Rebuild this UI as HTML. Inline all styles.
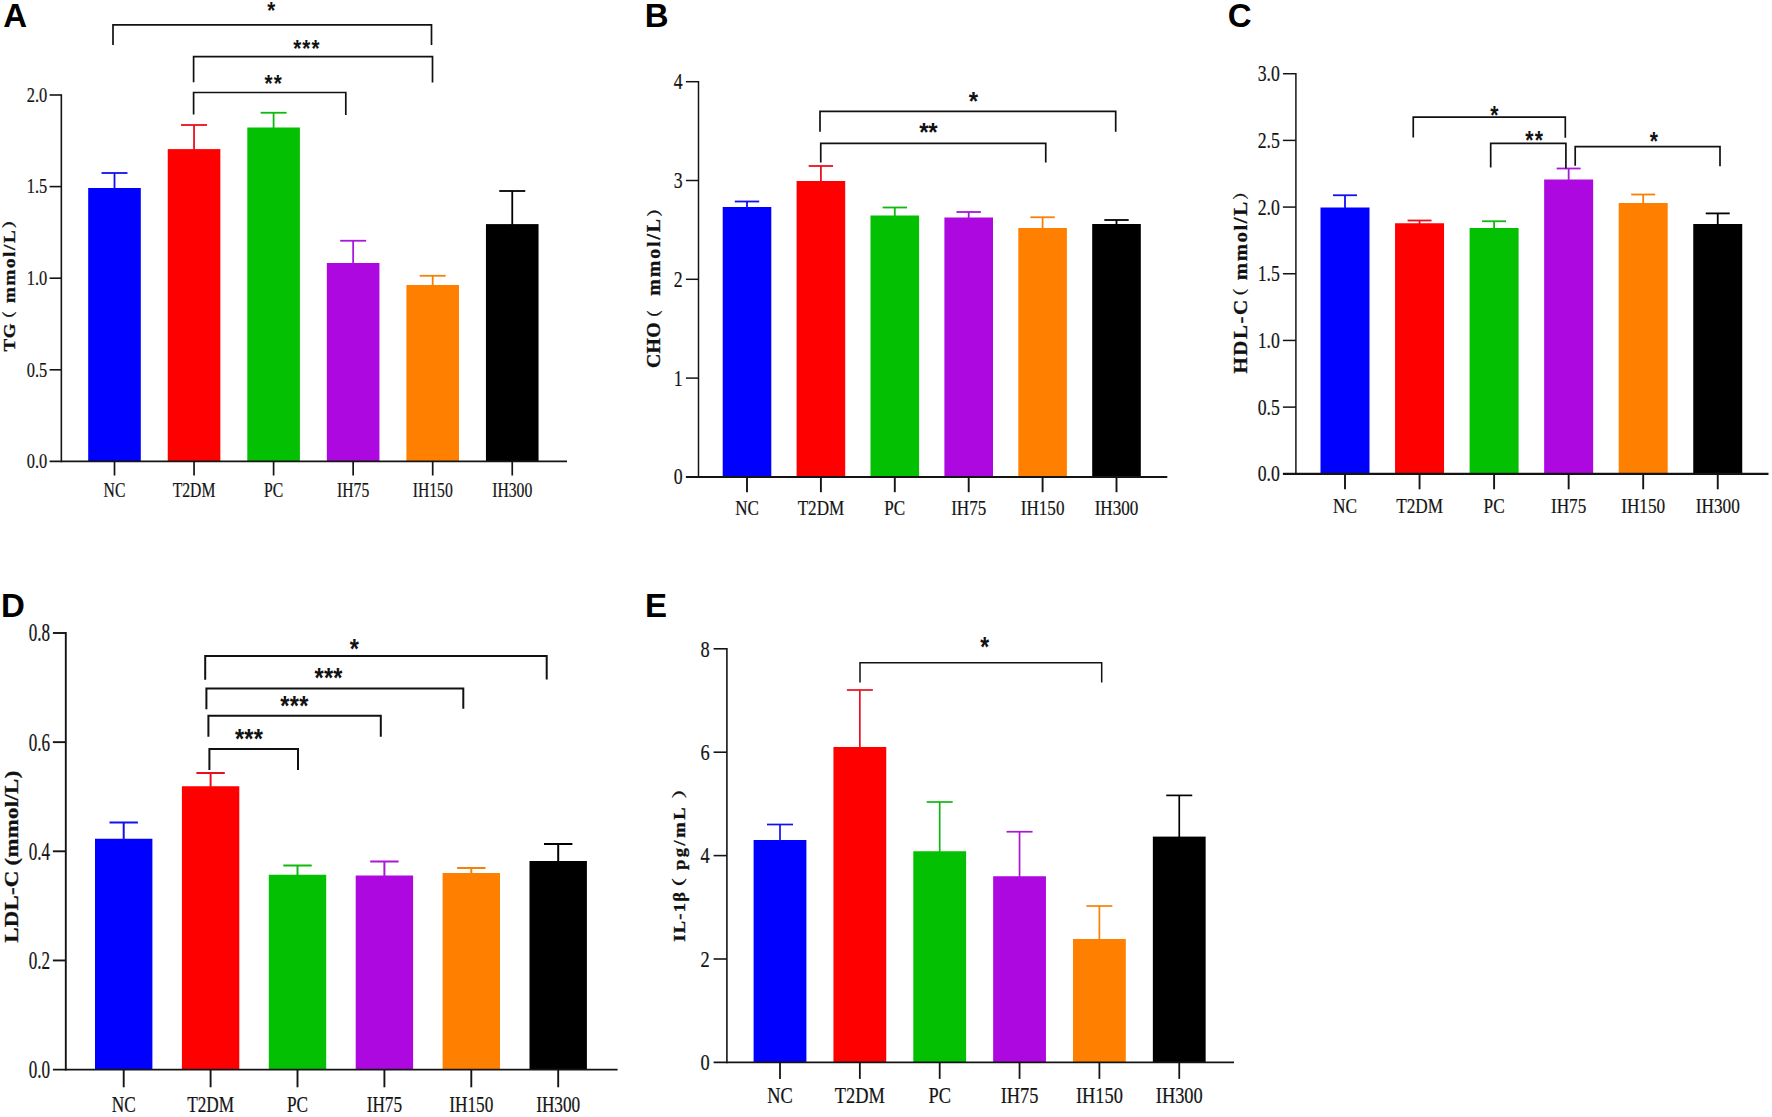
<!DOCTYPE html>
<html lang="en"><head><meta charset="utf-8"><title>Figure</title>
<style>html,body{margin:0;padding:0;background:#fff;}body{width:1772px;height:1117px;overflow:hidden;}svg{display:block;}</style>
</head><body>
<svg width="1772" height="1117" viewBox="0 0 1772 1117">
<rect width="1772" height="1117" fill="#ffffff"/>
<rect x="88.2" y="188" width="52.6" height="273.4" fill="#0000ff"/>
<line x1="114.5" y1="173" x2="114.5" y2="189" stroke="#1010f0" stroke-width="1.8"/>
<line x1="101.5" y1="173" x2="127.5" y2="173" stroke="#1010f0" stroke-width="1.8"/>
<rect x="167.75" y="149.1" width="52.6" height="312.3" fill="#ff0000"/>
<line x1="194.05" y1="125" x2="194.05" y2="150.1" stroke="#e81020" stroke-width="1.8"/>
<line x1="181.05" y1="125" x2="207.05" y2="125" stroke="#e81020" stroke-width="1.8"/>
<rect x="247.3" y="127.5" width="52.6" height="333.9" fill="#03c003"/>
<line x1="273.6" y1="112.75" x2="273.6" y2="128.5" stroke="#10b810" stroke-width="1.8"/>
<line x1="260.6" y1="112.75" x2="286.6" y2="112.75" stroke="#10b810" stroke-width="1.8"/>
<rect x="326.85" y="263" width="52.6" height="198.4" fill="#ae08e0"/>
<line x1="353.15" y1="240.75" x2="353.15" y2="264" stroke="#a818d8" stroke-width="1.8"/>
<line x1="340.15" y1="240.75" x2="366.15" y2="240.75" stroke="#a818d8" stroke-width="1.8"/>
<rect x="406.4" y="285" width="52.6" height="176.4" fill="#ff8000"/>
<line x1="432.7" y1="275.8" x2="432.7" y2="286" stroke="#f88008" stroke-width="1.8"/>
<line x1="419.7" y1="275.8" x2="445.7" y2="275.8" stroke="#f88008" stroke-width="1.8"/>
<rect x="485.95" y="224.1" width="52.6" height="237.3" fill="#000000"/>
<line x1="512.25" y1="191" x2="512.25" y2="225.1" stroke="#000000" stroke-width="1.8"/>
<line x1="499.25" y1="191" x2="525.25" y2="191" stroke="#000000" stroke-width="1.8"/>
<line x1="61.35" y1="94.2" x2="61.35" y2="462.25" stroke="#141414" stroke-width="1.6"/>
<line x1="49.6" y1="461.4" x2="567" y2="461.4" stroke="#141414" stroke-width="1.7"/>
<text transform="translate(47.2,468.1) scale(0.77,1)" text-anchor="end" font-family='"Liberation Serif","Noto Serif CJK SC",serif' font-size="21.3" fill="#141414" stroke="#141414" stroke-width="0.2" vector-effect="non-scaling-stroke">0.0</text>
<line x1="49.6" y1="369.8" x2="61.35" y2="369.8" stroke="#141414" stroke-width="1.6"/>
<text transform="translate(47.2,376.5) scale(0.77,1)" text-anchor="end" font-family='"Liberation Serif","Noto Serif CJK SC",serif' font-size="21.3" fill="#141414" stroke="#141414" stroke-width="0.2" vector-effect="non-scaling-stroke">0.5</text>
<line x1="49.6" y1="278.2" x2="61.35" y2="278.2" stroke="#141414" stroke-width="1.6"/>
<text transform="translate(47.2,284.9) scale(0.77,1)" text-anchor="end" font-family='"Liberation Serif","Noto Serif CJK SC",serif' font-size="21.3" fill="#141414" stroke="#141414" stroke-width="0.2" vector-effect="non-scaling-stroke">1.0</text>
<line x1="49.6" y1="186.6" x2="61.35" y2="186.6" stroke="#141414" stroke-width="1.6"/>
<text transform="translate(47.2,193.3) scale(0.77,1)" text-anchor="end" font-family='"Liberation Serif","Noto Serif CJK SC",serif' font-size="21.3" fill="#141414" stroke="#141414" stroke-width="0.2" vector-effect="non-scaling-stroke">1.5</text>
<line x1="49.6" y1="95" x2="61.35" y2="95" stroke="#141414" stroke-width="1.6"/>
<text transform="translate(47.2,101.7) scale(0.77,1)" text-anchor="end" font-family='"Liberation Serif","Noto Serif CJK SC",serif' font-size="21.3" fill="#141414" stroke="#141414" stroke-width="0.2" vector-effect="non-scaling-stroke">2.0</text>
<line x1="114.5" y1="461.4" x2="114.5" y2="475.5" stroke="#141414" stroke-width="1.7"/>
<text transform="translate(114.5,497.2) scale(0.765,1)" text-anchor="middle" font-family='"Liberation Serif","Noto Serif CJK SC",serif' font-size="20.5" fill="#141414" stroke="#141414" stroke-width="0.2" vector-effect="non-scaling-stroke">NC</text>
<line x1="194.05" y1="461.4" x2="194.05" y2="475.5" stroke="#141414" stroke-width="1.7"/>
<text transform="translate(194.05,497.2) scale(0.765,1)" text-anchor="middle" font-family='"Liberation Serif","Noto Serif CJK SC",serif' font-size="20.5" fill="#141414" stroke="#141414" stroke-width="0.2" vector-effect="non-scaling-stroke">T2DM</text>
<line x1="273.6" y1="461.4" x2="273.6" y2="475.5" stroke="#141414" stroke-width="1.7"/>
<text transform="translate(273.6,497.2) scale(0.765,1)" text-anchor="middle" font-family='"Liberation Serif","Noto Serif CJK SC",serif' font-size="20.5" fill="#141414" stroke="#141414" stroke-width="0.2" vector-effect="non-scaling-stroke">PC</text>
<line x1="353.15" y1="461.4" x2="353.15" y2="475.5" stroke="#141414" stroke-width="1.7"/>
<text transform="translate(353.15,497.2) scale(0.765,1)" text-anchor="middle" font-family='"Liberation Serif","Noto Serif CJK SC",serif' font-size="20.5" fill="#141414" stroke="#141414" stroke-width="0.2" vector-effect="non-scaling-stroke">IH75</text>
<line x1="432.7" y1="461.4" x2="432.7" y2="475.5" stroke="#141414" stroke-width="1.7"/>
<text transform="translate(432.7,497.2) scale(0.765,1)" text-anchor="middle" font-family='"Liberation Serif","Noto Serif CJK SC",serif' font-size="20.5" fill="#141414" stroke="#141414" stroke-width="0.2" vector-effect="non-scaling-stroke">IH150</text>
<line x1="512.25" y1="461.4" x2="512.25" y2="475.5" stroke="#141414" stroke-width="1.7"/>
<text transform="translate(512.25,497.2) scale(0.765,1)" text-anchor="middle" font-family='"Liberation Serif","Noto Serif CJK SC",serif' font-size="20.5" fill="#141414" stroke="#141414" stroke-width="0.2" vector-effect="non-scaling-stroke">IH300</text>
<path d="M113 45V24.9H431.5V45" fill="none" stroke="#111" stroke-width="1.7" stroke-linejoin="miter"/>
<text transform="translate(267.27,18.85) scale(0.86,1)" font-family='"Liberation Sans","Noto Sans CJK SC",sans-serif' font-weight="700" font-size="24" fill="#111">*</text>
<path d="M193.6 82.3V56.7H432.5V82.5" fill="none" stroke="#111" stroke-width="1.7" stroke-linejoin="miter"/>
<text transform="translate(293.17,57.45) scale(0.86,1)" font-family='"Liberation Sans","Noto Sans CJK SC",sans-serif' font-weight="700" font-size="24" letter-spacing="1.25" fill="#111">***</text>
<path d="M193.6 114.6V92.5H345.8V115" fill="none" stroke="#111" stroke-width="1.7" stroke-linejoin="miter"/>
<text transform="translate(264.57,91.9) scale(0.86,1)" font-family='"Liberation Sans","Noto Sans CJK SC",sans-serif' font-weight="700" font-size="24" letter-spacing="1.25" fill="#111">**</text>
<text x="3.2" y="27.3" font-family='"Liberation Sans","Noto Sans CJK SC",sans-serif' font-weight="700" font-size="33" fill="#000">A</text>
<text transform="translate(15.2,351.48) rotate(-90) scale(1.1,1)" font-family='"Liberation Serif","Noto Serif CJK SC",serif' font-weight="700" font-size="17.3" letter-spacing="0.6" fill="#111" stroke="#111" stroke-width="0.3">TG</text>
<text transform="translate(14.8,326.63) rotate(-90) scale(1.07,1)" font-family='"Liberation Serif","Noto Serif CJK SC",serif' font-weight="700" font-size="14.6" fill="#111" stroke="#111" stroke-width="0.3">（</text>
<text transform="translate(15.2,303.07) rotate(-90) scale(1.1,1)" font-family='"Liberation Serif","Noto Serif CJK SC",serif' font-weight="700" font-size="17.3" letter-spacing="1.49" fill="#111" stroke="#111" stroke-width="0.3">mmol/L</text>
<text transform="translate(14.8,228.54) rotate(-90) scale(1.19,1)" font-family='"Liberation Serif","Noto Serif CJK SC",serif' font-weight="700" font-size="14.6" fill="#111" stroke="#111" stroke-width="0.3">）</text>
<rect x="722.7" y="207" width="48.6" height="269.9" fill="#0000ff"/>
<line x1="747" y1="201.5" x2="747" y2="208" stroke="#1010f0" stroke-width="1.8"/>
<line x1="734.8" y1="201.5" x2="759.2" y2="201.5" stroke="#1010f0" stroke-width="1.8"/>
<rect x="796.6" y="181" width="48.6" height="295.9" fill="#ff0000"/>
<line x1="820.9" y1="166" x2="820.9" y2="182" stroke="#e81020" stroke-width="1.8"/>
<line x1="808.7" y1="166" x2="833.1" y2="166" stroke="#e81020" stroke-width="1.8"/>
<rect x="870.5" y="215.5" width="48.6" height="261.4" fill="#03c003"/>
<line x1="894.8" y1="207.5" x2="894.8" y2="216.5" stroke="#10b810" stroke-width="1.8"/>
<line x1="882.6" y1="207.5" x2="907" y2="207.5" stroke="#10b810" stroke-width="1.8"/>
<rect x="944.4" y="217.5" width="48.6" height="259.4" fill="#ae08e0"/>
<line x1="968.7" y1="212" x2="968.7" y2="218.5" stroke="#a818d8" stroke-width="1.8"/>
<line x1="956.5" y1="212" x2="980.9" y2="212" stroke="#a818d8" stroke-width="1.8"/>
<rect x="1018.3" y="228" width="48.6" height="248.9" fill="#ff8000"/>
<line x1="1042.6" y1="217.25" x2="1042.6" y2="229" stroke="#f88008" stroke-width="1.8"/>
<line x1="1030.4" y1="217.25" x2="1054.8" y2="217.25" stroke="#f88008" stroke-width="1.8"/>
<rect x="1092.2" y="224" width="48.6" height="252.9" fill="#000000"/>
<line x1="1116.5" y1="220" x2="1116.5" y2="225" stroke="#000000" stroke-width="1.8"/>
<line x1="1104.3" y1="220" x2="1128.7" y2="220" stroke="#000000" stroke-width="1.8"/>
<line x1="698.5" y1="80.95" x2="698.5" y2="477.9" stroke="#141414" stroke-width="1.5"/>
<line x1="685.9" y1="476.9" x2="1167.3" y2="476.9" stroke="#141414" stroke-width="2.0"/>
<text transform="translate(682.7,484.34) scale(0.765,1)" text-anchor="end" font-family='"Liberation Serif","Noto Serif CJK SC",serif' font-size="23.2" fill="#141414" stroke="#141414" stroke-width="0.2" vector-effect="non-scaling-stroke">0</text>
<line x1="685.9" y1="378.1" x2="698.5" y2="378.1" stroke="#141414" stroke-width="1.5"/>
<text transform="translate(682.7,385.54) scale(0.765,1)" text-anchor="end" font-family='"Liberation Serif","Noto Serif CJK SC",serif' font-size="23.2" fill="#141414" stroke="#141414" stroke-width="0.2" vector-effect="non-scaling-stroke">1</text>
<line x1="685.9" y1="279.3" x2="698.5" y2="279.3" stroke="#141414" stroke-width="1.5"/>
<text transform="translate(682.7,286.74) scale(0.765,1)" text-anchor="end" font-family='"Liberation Serif","Noto Serif CJK SC",serif' font-size="23.2" fill="#141414" stroke="#141414" stroke-width="0.2" vector-effect="non-scaling-stroke">2</text>
<line x1="685.9" y1="180.5" x2="698.5" y2="180.5" stroke="#141414" stroke-width="1.5"/>
<text transform="translate(682.7,187.94) scale(0.765,1)" text-anchor="end" font-family='"Liberation Serif","Noto Serif CJK SC",serif' font-size="23.2" fill="#141414" stroke="#141414" stroke-width="0.2" vector-effect="non-scaling-stroke">3</text>
<line x1="685.9" y1="81.7" x2="698.5" y2="81.7" stroke="#141414" stroke-width="1.5"/>
<text transform="translate(682.7,89.14) scale(0.765,1)" text-anchor="end" font-family='"Liberation Serif","Noto Serif CJK SC",serif' font-size="23.2" fill="#141414" stroke="#141414" stroke-width="0.2" vector-effect="non-scaling-stroke">4</text>
<line x1="747" y1="476.9" x2="747" y2="492.2" stroke="#141414" stroke-width="1.9"/>
<text transform="translate(747,515.2) scale(0.795,1)" text-anchor="middle" font-family='"Liberation Serif","Noto Serif CJK SC",serif' font-size="21.5" fill="#141414" stroke="#141414" stroke-width="0.2" vector-effect="non-scaling-stroke">NC</text>
<line x1="820.9" y1="476.9" x2="820.9" y2="492.2" stroke="#141414" stroke-width="1.9"/>
<text transform="translate(820.9,515.2) scale(0.795,1)" text-anchor="middle" font-family='"Liberation Serif","Noto Serif CJK SC",serif' font-size="21.5" fill="#141414" stroke="#141414" stroke-width="0.2" vector-effect="non-scaling-stroke">T2DM</text>
<line x1="894.8" y1="476.9" x2="894.8" y2="492.2" stroke="#141414" stroke-width="1.9"/>
<text transform="translate(894.8,515.2) scale(0.795,1)" text-anchor="middle" font-family='"Liberation Serif","Noto Serif CJK SC",serif' font-size="21.5" fill="#141414" stroke="#141414" stroke-width="0.2" vector-effect="non-scaling-stroke">PC</text>
<line x1="968.7" y1="476.9" x2="968.7" y2="492.2" stroke="#141414" stroke-width="1.9"/>
<text transform="translate(968.7,515.2) scale(0.795,1)" text-anchor="middle" font-family='"Liberation Serif","Noto Serif CJK SC",serif' font-size="21.5" fill="#141414" stroke="#141414" stroke-width="0.2" vector-effect="non-scaling-stroke">IH75</text>
<line x1="1042.6" y1="476.9" x2="1042.6" y2="492.2" stroke="#141414" stroke-width="1.9"/>
<text transform="translate(1042.6,515.2) scale(0.795,1)" text-anchor="middle" font-family='"Liberation Serif","Noto Serif CJK SC",serif' font-size="21.5" fill="#141414" stroke="#141414" stroke-width="0.2" vector-effect="non-scaling-stroke">IH150</text>
<line x1="1116.5" y1="476.9" x2="1116.5" y2="492.2" stroke="#141414" stroke-width="1.9"/>
<text transform="translate(1116.5,515.2) scale(0.795,1)" text-anchor="middle" font-family='"Liberation Serif","Noto Serif CJK SC",serif' font-size="21.5" fill="#141414" stroke="#141414" stroke-width="0.2" vector-effect="non-scaling-stroke">IH300</text>
<path d="M820 131.75V111.4H1115.7V131.75" fill="none" stroke="#111" stroke-width="1.7" stroke-linejoin="miter"/>
<text transform="translate(968.65,110.43) scale(1,1.04)" font-family='"Liberation Sans","Noto Sans CJK SC",sans-serif' font-weight="700" font-size="24" fill="#111">*</text>
<path d="M820.75 162.5V143.4H1045.75V162.5" fill="none" stroke="#111" stroke-width="1.7" stroke-linejoin="miter"/>
<text transform="translate(919.35,141.38) scale(1,1.04)" font-family='"Liberation Sans","Noto Sans CJK SC",sans-serif' font-weight="700" font-size="24" letter-spacing="-0.34" fill="#111">**</text>
<text x="644.8" y="27.3" font-family='"Liberation Sans","Noto Sans CJK SC",sans-serif' font-weight="700" font-size="33" fill="#000">B</text>
<text transform="translate(660,367.99) rotate(-90) scale(1.1,1)" font-family='"Liberation Serif","Noto Serif CJK SC",serif' font-weight="700" font-size="18" letter-spacing="0.29" fill="#111" stroke="#111" stroke-width="0.3">CHO</text>
<text transform="translate(659.6,325.73) rotate(-90) scale(1,1)" font-family='"Liberation Serif","Noto Serif CJK SC",serif' font-weight="700" font-size="15.6" fill="#111" stroke="#111" stroke-width="0.3">（</text>
<text transform="translate(660,295.69) rotate(-90) scale(1.1,1)" font-family='"Liberation Serif","Noto Serif CJK SC",serif' font-weight="700" font-size="18" letter-spacing="1.76" fill="#111" stroke="#111" stroke-width="0.3">mmol/L</text>
<text transform="translate(659.6,216.8) rotate(-90) scale(1.07,1)" font-family='"Liberation Serif","Noto Serif CJK SC",serif' font-weight="700" font-size="15.6" fill="#111" stroke="#111" stroke-width="0.3">）</text>
<rect x="1320.5" y="207.5" width="49" height="266.3" fill="#0000ff"/>
<line x1="1345" y1="195.25" x2="1345" y2="208.5" stroke="#1010f0" stroke-width="1.8"/>
<line x1="1333" y1="195.25" x2="1357" y2="195.25" stroke="#1010f0" stroke-width="1.8"/>
<rect x="1395.05" y="223.25" width="49" height="250.55" fill="#ff0000"/>
<line x1="1419.55" y1="220.5" x2="1419.55" y2="224.25" stroke="#e81020" stroke-width="1.8"/>
<line x1="1407.55" y1="220.5" x2="1431.55" y2="220.5" stroke="#e81020" stroke-width="1.8"/>
<rect x="1469.6" y="228" width="49" height="245.8" fill="#03c003"/>
<line x1="1494.1" y1="221.25" x2="1494.1" y2="229" stroke="#10b810" stroke-width="1.8"/>
<line x1="1482.1" y1="221.25" x2="1506.1" y2="221.25" stroke="#10b810" stroke-width="1.8"/>
<rect x="1544.15" y="179.5" width="49" height="294.3" fill="#ae08e0"/>
<line x1="1568.65" y1="168.5" x2="1568.65" y2="180.5" stroke="#a818d8" stroke-width="1.8"/>
<line x1="1556.65" y1="168.5" x2="1580.65" y2="168.5" stroke="#a818d8" stroke-width="1.8"/>
<rect x="1618.7" y="203" width="49" height="270.8" fill="#ff8000"/>
<line x1="1643.2" y1="194.5" x2="1643.2" y2="204" stroke="#f88008" stroke-width="1.8"/>
<line x1="1631.2" y1="194.5" x2="1655.2" y2="194.5" stroke="#f88008" stroke-width="1.8"/>
<rect x="1693.25" y="224" width="49" height="249.8" fill="#000000"/>
<line x1="1717.75" y1="213.4" x2="1717.75" y2="225" stroke="#000000" stroke-width="1.8"/>
<line x1="1705.75" y1="213.4" x2="1729.75" y2="213.4" stroke="#000000" stroke-width="1.8"/>
<line x1="1295.9" y1="72.97" x2="1295.9" y2="474.9" stroke="#141414" stroke-width="1.5"/>
<line x1="1282.9" y1="473.8" x2="1768.5" y2="473.8" stroke="#141414" stroke-width="2.2"/>
<text transform="translate(1279.9,481.34) scale(0.765,1)" text-anchor="end" font-family='"Liberation Serif","Noto Serif CJK SC",serif' font-size="23.2" fill="#141414" stroke="#141414" stroke-width="0.2" vector-effect="non-scaling-stroke">0.0</text>
<line x1="1282.9" y1="407.12" x2="1295.9" y2="407.12" stroke="#141414" stroke-width="1.5"/>
<text transform="translate(1279.9,414.66) scale(0.765,1)" text-anchor="end" font-family='"Liberation Serif","Noto Serif CJK SC",serif' font-size="23.2" fill="#141414" stroke="#141414" stroke-width="0.2" vector-effect="non-scaling-stroke">0.5</text>
<line x1="1282.9" y1="340.44" x2="1295.9" y2="340.44" stroke="#141414" stroke-width="1.5"/>
<text transform="translate(1279.9,347.98) scale(0.765,1)" text-anchor="end" font-family='"Liberation Serif","Noto Serif CJK SC",serif' font-size="23.2" fill="#141414" stroke="#141414" stroke-width="0.2" vector-effect="non-scaling-stroke">1.0</text>
<line x1="1282.9" y1="273.76" x2="1295.9" y2="273.76" stroke="#141414" stroke-width="1.5"/>
<text transform="translate(1279.9,281.3) scale(0.765,1)" text-anchor="end" font-family='"Liberation Serif","Noto Serif CJK SC",serif' font-size="23.2" fill="#141414" stroke="#141414" stroke-width="0.2" vector-effect="non-scaling-stroke">1.5</text>
<line x1="1282.9" y1="207.08" x2="1295.9" y2="207.08" stroke="#141414" stroke-width="1.5"/>
<text transform="translate(1279.9,214.62) scale(0.765,1)" text-anchor="end" font-family='"Liberation Serif","Noto Serif CJK SC",serif' font-size="23.2" fill="#141414" stroke="#141414" stroke-width="0.2" vector-effect="non-scaling-stroke">2.0</text>
<line x1="1282.9" y1="140.4" x2="1295.9" y2="140.4" stroke="#141414" stroke-width="1.5"/>
<text transform="translate(1279.9,147.94) scale(0.765,1)" text-anchor="end" font-family='"Liberation Serif","Noto Serif CJK SC",serif' font-size="23.2" fill="#141414" stroke="#141414" stroke-width="0.2" vector-effect="non-scaling-stroke">2.5</text>
<line x1="1282.9" y1="73.72" x2="1295.9" y2="73.72" stroke="#141414" stroke-width="1.5"/>
<text transform="translate(1279.9,81.26) scale(0.765,1)" text-anchor="end" font-family='"Liberation Serif","Noto Serif CJK SC",serif' font-size="23.2" fill="#141414" stroke="#141414" stroke-width="0.2" vector-effect="non-scaling-stroke">3.0</text>
<line x1="1345" y1="473.8" x2="1345" y2="489.3" stroke="#141414" stroke-width="1.9"/>
<text transform="translate(1345,512.5) scale(0.82,1)" text-anchor="middle" font-family='"Liberation Serif","Noto Serif CJK SC",serif' font-size="21" fill="#141414" stroke="#141414" stroke-width="0.2" vector-effect="non-scaling-stroke">NC</text>
<line x1="1419.55" y1="473.8" x2="1419.55" y2="489.3" stroke="#141414" stroke-width="1.9"/>
<text transform="translate(1419.55,512.5) scale(0.82,1)" text-anchor="middle" font-family='"Liberation Serif","Noto Serif CJK SC",serif' font-size="21" fill="#141414" stroke="#141414" stroke-width="0.2" vector-effect="non-scaling-stroke">T2DM</text>
<line x1="1494.1" y1="473.8" x2="1494.1" y2="489.3" stroke="#141414" stroke-width="1.9"/>
<text transform="translate(1494.1,512.5) scale(0.82,1)" text-anchor="middle" font-family='"Liberation Serif","Noto Serif CJK SC",serif' font-size="21" fill="#141414" stroke="#141414" stroke-width="0.2" vector-effect="non-scaling-stroke">PC</text>
<line x1="1568.65" y1="473.8" x2="1568.65" y2="489.3" stroke="#141414" stroke-width="1.9"/>
<text transform="translate(1568.65,512.5) scale(0.82,1)" text-anchor="middle" font-family='"Liberation Serif","Noto Serif CJK SC",serif' font-size="21" fill="#141414" stroke="#141414" stroke-width="0.2" vector-effect="non-scaling-stroke">IH75</text>
<line x1="1643.2" y1="473.8" x2="1643.2" y2="489.3" stroke="#141414" stroke-width="1.9"/>
<text transform="translate(1643.2,512.5) scale(0.82,1)" text-anchor="middle" font-family='"Liberation Serif","Noto Serif CJK SC",serif' font-size="21" fill="#141414" stroke="#141414" stroke-width="0.2" vector-effect="non-scaling-stroke">IH150</text>
<line x1="1717.75" y1="473.8" x2="1717.75" y2="489.3" stroke="#141414" stroke-width="1.9"/>
<text transform="translate(1717.75,512.5) scale(0.82,1)" text-anchor="middle" font-family='"Liberation Serif","Noto Serif CJK SC",serif' font-size="21" fill="#141414" stroke="#141414" stroke-width="0.2" vector-effect="non-scaling-stroke">IH300</text>
<path d="M1413.25 137.5V117.1H1565.3V137.8" fill="none" stroke="#111" stroke-width="1.7" stroke-linejoin="miter"/>
<text transform="translate(1490.22,123.72) scale(0.88,1.06)" font-family='"Liberation Sans","Noto Sans CJK SC",sans-serif' font-weight="700" font-size="24" fill="#111">*</text>
<path d="M1490.7 167.6V143.4H1565.9V168.5" fill="none" stroke="#111" stroke-width="1.7" stroke-linejoin="miter"/>
<text transform="translate(1525.22,148.72) scale(0.88,1.06)" font-family='"Liberation Sans","Noto Sans CJK SC",sans-serif' font-weight="700" font-size="24" letter-spacing="1.57" fill="#111">**</text>
<path d="M1575.2 165.8V146.6H1720V166.2" fill="none" stroke="#111" stroke-width="1.7" stroke-linejoin="miter"/>
<text transform="translate(1649.82,150.12) scale(0.88,1.06)" font-family='"Liberation Sans","Noto Sans CJK SC",sans-serif' font-weight="700" font-size="24" fill="#111">*</text>
<text x="1227.8" y="27.3" font-family='"Liberation Sans","Noto Sans CJK SC",sans-serif' font-weight="700" font-size="33" fill="#000">C</text>
<text transform="translate(1246.5,373.52) rotate(-90) scale(1.1,1)" font-family='"Liberation Serif","Noto Serif CJK SC",serif' font-weight="700" font-size="19" letter-spacing="1.41" fill="#111" stroke="#111" stroke-width="0.3">HDL-C</text>
<text transform="translate(1246.1,304.75) rotate(-90) scale(1.04,1)" font-family='"Liberation Serif","Noto Serif CJK SC",serif' font-weight="700" font-size="15.7" fill="#111" stroke="#111" stroke-width="0.3">（</text>
<text transform="translate(1246.5,280.23) rotate(-90) scale(1.1,1)" font-family='"Liberation Serif","Noto Serif CJK SC",serif' font-weight="700" font-size="19" letter-spacing="1.37" fill="#111" stroke="#111" stroke-width="0.3">mmol/L</text>
<text transform="translate(1246.1,199.78) rotate(-90) scale(1.04,1)" font-family='"Liberation Serif","Noto Serif CJK SC",serif' font-weight="700" font-size="15.7" fill="#111" stroke="#111" stroke-width="0.3">）</text>
<rect x="95" y="838.75" width="57.4" height="230.85" fill="#0000ff"/>
<line x1="123.7" y1="822.5" x2="123.7" y2="839.75" stroke="#1010f0" stroke-width="2.0"/>
<line x1="109.5" y1="822.5" x2="137.9" y2="822.5" stroke="#1010f0" stroke-width="2.0"/>
<rect x="181.9" y="786.25" width="57.4" height="283.35" fill="#ff0000"/>
<line x1="210.6" y1="773" x2="210.6" y2="787.25" stroke="#e81020" stroke-width="2.0"/>
<line x1="196.4" y1="773" x2="224.8" y2="773" stroke="#e81020" stroke-width="2.0"/>
<rect x="268.8" y="874.75" width="57.4" height="194.85" fill="#03c003"/>
<line x1="297.5" y1="865.5" x2="297.5" y2="875.75" stroke="#10b810" stroke-width="2.0"/>
<line x1="283.3" y1="865.5" x2="311.7" y2="865.5" stroke="#10b810" stroke-width="2.0"/>
<rect x="355.7" y="875.5" width="57.4" height="194.1" fill="#ae08e0"/>
<line x1="384.4" y1="861.5" x2="384.4" y2="876.5" stroke="#a818d8" stroke-width="2.0"/>
<line x1="370.2" y1="861.5" x2="398.6" y2="861.5" stroke="#a818d8" stroke-width="2.0"/>
<rect x="442.6" y="873" width="57.4" height="196.6" fill="#ff8000"/>
<line x1="471.3" y1="868" x2="471.3" y2="874" stroke="#f88008" stroke-width="2.0"/>
<line x1="457.1" y1="868" x2="485.5" y2="868" stroke="#f88008" stroke-width="2.0"/>
<rect x="529.5" y="861" width="57.4" height="208.6" fill="#000000"/>
<line x1="558.2" y1="844" x2="558.2" y2="862" stroke="#000000" stroke-width="2.0"/>
<line x1="544" y1="844" x2="572.4" y2="844" stroke="#000000" stroke-width="2.0"/>
<line x1="65.8" y1="632.05" x2="65.8" y2="1070.55" stroke="#141414" stroke-width="1.9"/>
<line x1="52.9" y1="1069.6" x2="617.6" y2="1069.6" stroke="#141414" stroke-width="1.9"/>
<text transform="translate(50.1,1077.98) scale(0.69,1)" text-anchor="end" font-family='"Liberation Serif","Noto Serif CJK SC",serif' font-size="24.8" fill="#141414" stroke="#141414" stroke-width="0.2" vector-effect="non-scaling-stroke">0.0</text>
<line x1="52.9" y1="960.45" x2="65.8" y2="960.45" stroke="#141414" stroke-width="1.9"/>
<text transform="translate(50.1,968.83) scale(0.69,1)" text-anchor="end" font-family='"Liberation Serif","Noto Serif CJK SC",serif' font-size="24.8" fill="#141414" stroke="#141414" stroke-width="0.2" vector-effect="non-scaling-stroke">0.2</text>
<line x1="52.9" y1="851.3" x2="65.8" y2="851.3" stroke="#141414" stroke-width="1.9"/>
<text transform="translate(50.1,859.68) scale(0.69,1)" text-anchor="end" font-family='"Liberation Serif","Noto Serif CJK SC",serif' font-size="24.8" fill="#141414" stroke="#141414" stroke-width="0.2" vector-effect="non-scaling-stroke">0.4</text>
<line x1="52.9" y1="742.15" x2="65.8" y2="742.15" stroke="#141414" stroke-width="1.9"/>
<text transform="translate(50.1,750.53) scale(0.69,1)" text-anchor="end" font-family='"Liberation Serif","Noto Serif CJK SC",serif' font-size="24.8" fill="#141414" stroke="#141414" stroke-width="0.2" vector-effect="non-scaling-stroke">0.6</text>
<line x1="52.9" y1="633" x2="65.8" y2="633" stroke="#141414" stroke-width="1.9"/>
<text transform="translate(50.1,641.38) scale(0.69,1)" text-anchor="end" font-family='"Liberation Serif","Noto Serif CJK SC",serif' font-size="24.8" fill="#141414" stroke="#141414" stroke-width="0.2" vector-effect="non-scaling-stroke">0.8</text>
<line x1="123.7" y1="1069.6" x2="123.7" y2="1087.3" stroke="#141414" stroke-width="1.9"/>
<text transform="translate(123.7,1111.5) scale(0.75,1)" text-anchor="middle" font-family='"Liberation Serif","Noto Serif CJK SC",serif' font-size="23" fill="#141414" stroke="#141414" stroke-width="0.2" vector-effect="non-scaling-stroke">NC</text>
<line x1="210.6" y1="1069.6" x2="210.6" y2="1087.3" stroke="#141414" stroke-width="1.9"/>
<text transform="translate(210.6,1111.5) scale(0.75,1)" text-anchor="middle" font-family='"Liberation Serif","Noto Serif CJK SC",serif' font-size="23" fill="#141414" stroke="#141414" stroke-width="0.2" vector-effect="non-scaling-stroke">T2DM</text>
<line x1="297.5" y1="1069.6" x2="297.5" y2="1087.3" stroke="#141414" stroke-width="1.9"/>
<text transform="translate(297.5,1111.5) scale(0.75,1)" text-anchor="middle" font-family='"Liberation Serif","Noto Serif CJK SC",serif' font-size="23" fill="#141414" stroke="#141414" stroke-width="0.2" vector-effect="non-scaling-stroke">PC</text>
<line x1="384.4" y1="1069.6" x2="384.4" y2="1087.3" stroke="#141414" stroke-width="1.9"/>
<text transform="translate(384.4,1111.5) scale(0.75,1)" text-anchor="middle" font-family='"Liberation Serif","Noto Serif CJK SC",serif' font-size="23" fill="#141414" stroke="#141414" stroke-width="0.2" vector-effect="non-scaling-stroke">IH75</text>
<line x1="471.3" y1="1069.6" x2="471.3" y2="1087.3" stroke="#141414" stroke-width="1.9"/>
<text transform="translate(471.3,1111.5) scale(0.75,1)" text-anchor="middle" font-family='"Liberation Serif","Noto Serif CJK SC",serif' font-size="23" fill="#141414" stroke="#141414" stroke-width="0.2" vector-effect="non-scaling-stroke">IH150</text>
<line x1="558.2" y1="1069.6" x2="558.2" y2="1087.3" stroke="#141414" stroke-width="1.9"/>
<text transform="translate(558.2,1111.5) scale(0.75,1)" text-anchor="middle" font-family='"Liberation Serif","Noto Serif CJK SC",serif' font-size="23" fill="#141414" stroke="#141414" stroke-width="0.2" vector-effect="non-scaling-stroke">IH300</text>
<path d="M205.2 679.7V656.1H546.7V679.6" fill="none" stroke="#111" stroke-width="2.0" stroke-linejoin="miter"/>
<text transform="translate(349.75,658.34) scale(0.98,1.17)" font-family='"Liberation Sans","Noto Sans CJK SC",sans-serif' font-weight="700" font-size="24" fill="#111">*</text>
<path d="M206.4 709.3V688.5H463.3V708.8" fill="none" stroke="#111" stroke-width="2.0" stroke-linejoin="miter"/>
<text transform="translate(314.55,687.04) scale(0.98,1.17)" font-family='"Liberation Sans","Noto Sans CJK SC",sans-serif' font-weight="700" font-size="24" letter-spacing="0.26" fill="#111">***</text>
<path d="M208.4 736.8V715.7H380.8V736.8" fill="none" stroke="#111" stroke-width="2.0" stroke-linejoin="miter"/>
<text transform="translate(280.35,715.24) scale(0.98,1.17)" font-family='"Liberation Sans","Noto Sans CJK SC",sans-serif' font-weight="700" font-size="24" letter-spacing="0.26" fill="#111">***</text>
<path d="M209.4 770V749H298V770" fill="none" stroke="#111" stroke-width="2.0" stroke-linejoin="miter"/>
<text transform="translate(234.95,747.94) scale(0.98,1.17)" font-family='"Liberation Sans","Noto Sans CJK SC",sans-serif' font-weight="700" font-size="24" letter-spacing="0.26" fill="#111">***</text>
<text x="0.9" y="616.5" font-family='"Liberation Sans","Noto Sans CJK SC",sans-serif' font-weight="700" font-size="33" fill="#000">D</text>
<text transform="translate(18.35,942.66) rotate(-90) scale(1.2,1)" font-family='"Liberation Serif","Noto Serif CJK SC",serif' font-weight="700" font-size="19" letter-spacing="0.2" fill="#111" stroke="#111" stroke-width="0.3">LDL-C</text>
<text transform="translate(18.35,865.41) rotate(-90) scale(1.2,1)" font-family='"Liberation Serif","Noto Serif CJK SC",serif' font-weight="700" font-size="19" letter-spacing="0.27" fill="#111" stroke="#111" stroke-width="0.3">(mmol/L)</text>
<rect x="753.6" y="840" width="52.8" height="222.4" fill="#0000ff"/>
<line x1="780" y1="824.5" x2="780" y2="841" stroke="#1010f0" stroke-width="1.7"/>
<line x1="767" y1="824.5" x2="793" y2="824.5" stroke="#1010f0" stroke-width="1.7"/>
<rect x="833.45" y="747" width="52.8" height="315.4" fill="#ff0000"/>
<line x1="859.85" y1="690" x2="859.85" y2="748" stroke="#e81020" stroke-width="1.7"/>
<line x1="846.85" y1="690" x2="872.85" y2="690" stroke="#e81020" stroke-width="1.7"/>
<rect x="913.3" y="851.25" width="52.8" height="211.15" fill="#03c003"/>
<line x1="939.7" y1="802" x2="939.7" y2="852.25" stroke="#10b810" stroke-width="1.7"/>
<line x1="926.7" y1="802" x2="952.7" y2="802" stroke="#10b810" stroke-width="1.7"/>
<rect x="993.15" y="876.25" width="52.8" height="186.15" fill="#ae08e0"/>
<line x1="1019.55" y1="831.75" x2="1019.55" y2="877.25" stroke="#a818d8" stroke-width="1.7"/>
<line x1="1006.55" y1="831.75" x2="1032.55" y2="831.75" stroke="#a818d8" stroke-width="1.7"/>
<rect x="1073" y="939" width="52.8" height="123.4" fill="#ff8000"/>
<line x1="1099.4" y1="906" x2="1099.4" y2="940" stroke="#f88008" stroke-width="1.7"/>
<line x1="1086.4" y1="906" x2="1112.4" y2="906" stroke="#f88008" stroke-width="1.7"/>
<rect x="1152.85" y="836.6" width="52.8" height="225.8" fill="#000000"/>
<line x1="1179.25" y1="795.4" x2="1179.25" y2="837.6" stroke="#000000" stroke-width="1.7"/>
<line x1="1166.25" y1="795.4" x2="1192.25" y2="795.4" stroke="#000000" stroke-width="1.7"/>
<line x1="726.9" y1="648" x2="726.9" y2="1063.35" stroke="#141414" stroke-width="1.6"/>
<line x1="713.6" y1="1062.4" x2="1234" y2="1062.4" stroke="#141414" stroke-width="1.9"/>
<text transform="translate(709.6,1070.17) scale(0.8,1)" text-anchor="end" font-family='"Liberation Serif","Noto Serif CJK SC",serif' font-size="23" fill="#141414" stroke="#141414" stroke-width="0.2" vector-effect="non-scaling-stroke">0</text>
<line x1="713.6" y1="959" x2="726.9" y2="959" stroke="#141414" stroke-width="1.6"/>
<text transform="translate(709.6,966.77) scale(0.8,1)" text-anchor="end" font-family='"Liberation Serif","Noto Serif CJK SC",serif' font-size="23" fill="#141414" stroke="#141414" stroke-width="0.2" vector-effect="non-scaling-stroke">2</text>
<line x1="713.6" y1="855.6" x2="726.9" y2="855.6" stroke="#141414" stroke-width="1.6"/>
<text transform="translate(709.6,863.37) scale(0.8,1)" text-anchor="end" font-family='"Liberation Serif","Noto Serif CJK SC",serif' font-size="23" fill="#141414" stroke="#141414" stroke-width="0.2" vector-effect="non-scaling-stroke">4</text>
<line x1="713.6" y1="752.2" x2="726.9" y2="752.2" stroke="#141414" stroke-width="1.6"/>
<text transform="translate(709.6,759.97) scale(0.8,1)" text-anchor="end" font-family='"Liberation Serif","Noto Serif CJK SC",serif' font-size="23" fill="#141414" stroke="#141414" stroke-width="0.2" vector-effect="non-scaling-stroke">6</text>
<line x1="713.6" y1="648.8" x2="726.9" y2="648.8" stroke="#141414" stroke-width="1.6"/>
<text transform="translate(709.6,656.57) scale(0.8,1)" text-anchor="end" font-family='"Liberation Serif","Noto Serif CJK SC",serif' font-size="23" fill="#141414" stroke="#141414" stroke-width="0.2" vector-effect="non-scaling-stroke">8</text>
<line x1="780" y1="1062.4" x2="780" y2="1078.9" stroke="#141414" stroke-width="1.8"/>
<text transform="translate(780,1103) scale(0.8,1)" text-anchor="middle" font-family='"Liberation Serif","Noto Serif CJK SC",serif' font-size="23" fill="#141414" stroke="#141414" stroke-width="0.2" vector-effect="non-scaling-stroke">NC</text>
<line x1="859.85" y1="1062.4" x2="859.85" y2="1078.9" stroke="#141414" stroke-width="1.8"/>
<text transform="translate(859.85,1103) scale(0.8,1)" text-anchor="middle" font-family='"Liberation Serif","Noto Serif CJK SC",serif' font-size="23" fill="#141414" stroke="#141414" stroke-width="0.2" vector-effect="non-scaling-stroke">T2DM</text>
<line x1="939.7" y1="1062.4" x2="939.7" y2="1078.9" stroke="#141414" stroke-width="1.8"/>
<text transform="translate(939.7,1103) scale(0.8,1)" text-anchor="middle" font-family='"Liberation Serif","Noto Serif CJK SC",serif' font-size="23" fill="#141414" stroke="#141414" stroke-width="0.2" vector-effect="non-scaling-stroke">PC</text>
<line x1="1019.55" y1="1062.4" x2="1019.55" y2="1078.9" stroke="#141414" stroke-width="1.8"/>
<text transform="translate(1019.55,1103) scale(0.8,1)" text-anchor="middle" font-family='"Liberation Serif","Noto Serif CJK SC",serif' font-size="23" fill="#141414" stroke="#141414" stroke-width="0.2" vector-effect="non-scaling-stroke">IH75</text>
<line x1="1099.4" y1="1062.4" x2="1099.4" y2="1078.9" stroke="#141414" stroke-width="1.8"/>
<text transform="translate(1099.4,1103) scale(0.8,1)" text-anchor="middle" font-family='"Liberation Serif","Noto Serif CJK SC",serif' font-size="23" fill="#141414" stroke="#141414" stroke-width="0.2" vector-effect="non-scaling-stroke">IH150</text>
<line x1="1179.25" y1="1062.4" x2="1179.25" y2="1078.9" stroke="#141414" stroke-width="1.8"/>
<text transform="translate(1179.25,1103) scale(0.8,1)" text-anchor="middle" font-family='"Liberation Serif","Noto Serif CJK SC",serif' font-size="23" fill="#141414" stroke="#141414" stroke-width="0.2" vector-effect="non-scaling-stroke">IH300</text>
<path d="M860 682.5V662.7H1101.7V682.4" fill="none" stroke="#111" stroke-width="1.5" stroke-linejoin="miter"/>
<text transform="translate(980.34,656.08) scale(0.95,1.14)" font-family='"Liberation Sans","Noto Sans CJK SC",sans-serif' font-weight="700" font-size="24" fill="#111">*</text>
<text x="645" y="617.3" font-family='"Liberation Sans","Noto Sans CJK SC",sans-serif' font-weight="700" font-size="33" fill="#000">E</text>
<text transform="translate(685.2,941.85) rotate(-90) scale(1.1,1)" font-family='"Liberation Serif","Noto Serif CJK SC",serif' font-weight="700" font-size="16.8" letter-spacing="1.2" fill="#111" stroke="#111" stroke-width="0.3">IL-1β</text>
<text transform="translate(684.8,898.01) rotate(-90) scale(1.36,1)" font-family='"Liberation Serif","Noto Serif CJK SC",serif' font-weight="700" font-size="15" fill="#111" stroke="#111" stroke-width="0.3">（</text>
<text transform="translate(685.2,869.98) rotate(-90) scale(1.1,1)" font-family='"Liberation Serif","Noto Serif CJK SC",serif' font-weight="700" font-size="16.8" letter-spacing="2.32" fill="#111" stroke="#111" stroke-width="0.3">pg/mL</text>
<text transform="translate(684.8,798.72) rotate(-90) scale(1.36,1)" font-family='"Liberation Serif","Noto Serif CJK SC",serif' font-weight="700" font-size="15" fill="#111" stroke="#111" stroke-width="0.3">）</text>
</svg>
</body></html>
